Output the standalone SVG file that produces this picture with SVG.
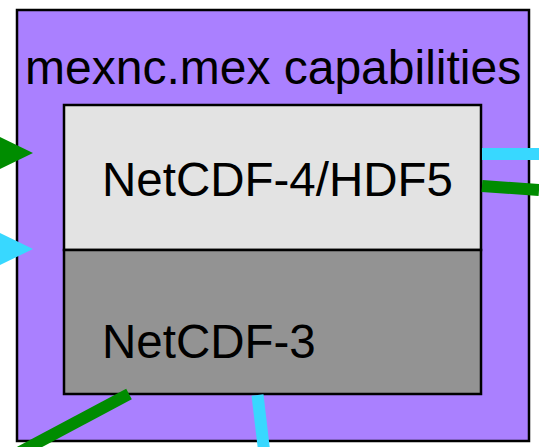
<svg xmlns="http://www.w3.org/2000/svg" width="539" height="447" viewBox="0 0 539 447">
  <style>
    .box { stroke: #000; stroke-width: 2.5; }
    .label { font-family: "Liberation Sans", Arial, sans-serif; font-size: 47.5px; fill: #000; }
    .title { font-size: 48px; }
    .wire { fill: none; stroke-width: 12; stroke-linecap: butt; }
    .green { stroke: #008c00; }
    .cyan { stroke: #38d8ff; }
  </style>
  <rect width="539" height="447" fill="#ffffff"/>

  <!-- outer container -->
  <g id="mexnc-capabilities">
    <rect class="box" x="17" y="10" width="512" height="431" fill="#aa80ff"/>
    <text class="label title" x="25" y="84">mexnc.mex capabilities</text>
  </g>

  <!-- NetCDF-4 / HDF5 section -->
  <g id="netcdf4-hdf5">
    <rect class="box" x="64" y="105" width="417" height="145" fill="#e3e3e3"/>
    <text class="label" x="102" y="196">NetCDF-4/HDF5</text>
  </g>

  <!-- NetCDF-3 section -->
  <g id="netcdf3">
    <rect class="box" x="64" y="250" width="417" height="144" fill="#939393"/>
    <text class="label" x="102" y="358">NetCDF-3</text>
  </g>

  <!-- connectors -->
  <g id="connectors">
    <polygon points="-2,136 33,153 -2,170" fill="#008c00"/>
    <polygon points="-2,232 33,249 -2,266" fill="#38d8ff"/>
    <line class="wire cyan" x1="482" y1="154" x2="539" y2="154"/>
    <line class="wire green" x1="482" y1="186" x2="539" y2="190"/>
    <line class="wire green" x1="129" y1="394" x2="20" y2="452"/>
    <line class="wire cyan" x1="257.5" y1="395" x2="264" y2="450"/>
  </g>
</svg>
